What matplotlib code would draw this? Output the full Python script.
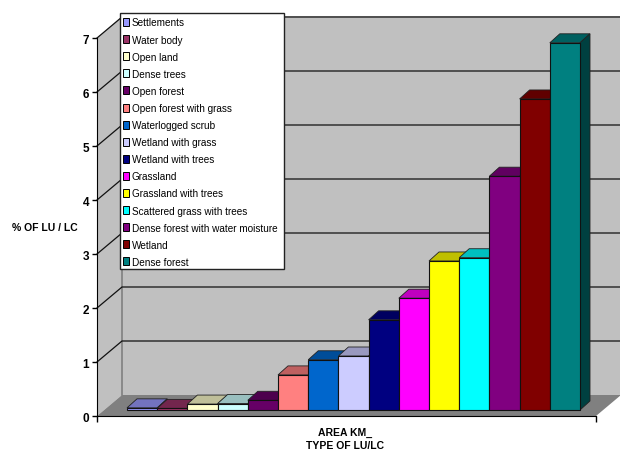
import numpy as np
import matplotlib
matplotlib.use("Agg")
import matplotlib.pyplot as plt
from matplotlib.colors import to_rgb
from matplotlib.patches import Polygon, Patch, Rectangle

plt.rcParams['font.family'] = ['Liberation Sans', 'DejaVu Sans']

categories = ["Settlements", "Water body", "Open land", "Dense trees", "Open forest",
              "Open forest with grass", "Waterlogged scrub", "Wetland with grass",
              "Wetland with trees", "Grassland", "Grassland with trees",
              "Scattered grass with trees", "Dense forest with water moisture",
              "Wetland", "Dense forest"]
values = [0.04, 0.03, 0.11, 0.12, 0.18, 0.65, 0.93, 1.0, 1.67, 2.07, 2.76, 2.82, 4.33, 5.76, 6.80]
colors = ["#9999FF", "#993366", "#FFFFCC", "#CCFFFF", "#660066", "#FF8080", "#0066CC", "#CCCCFF",
          "#000080", "#FF00FF", "#FFFF00", "#00FFFF", "#800080", "#800000", "#008080"]
yticks = [0, 1, 2, 3, 4, 5, 6, 7]

W, H = 620, 452
fig = plt.figure(figsize=(W/100, H/100), dpi=100)
# axes box = front plane of the chart, in pixels of the picture
ax = fig.add_axes([97/W, 1-417/H, (596-97)/W, (417-39)/H])
ax.patch.set_visible(False)

bar_w = 30.2            # px per category
px_y = 54.0             # px per unit
x0 = (97 - 142.1)/bar_w
x1 = (596 - 142.1)/bar_w
ax.set_xlim(x0, x1)
ax.set_ylim(0, 7)

# depth of the box and of the bars, in data units
box_dx, box_dy = 25/bar_w, 21/px_y
bar_dx, bar_dy = 10/bar_w, 9/px_y
base = 6/px_y

wall_r = x1 + box_dx
top = 7 + 22/px_y
kw = dict(clip_on=False, ec="none")
ax.add_patch(Polygon([(x0, 0), (x0+box_dx, box_dy), (x0+box_dx, top), (x0, 7)], fc="#C0C0C0", zorder=1, **kw))
ax.add_patch(Polygon([(x0+box_dx, box_dy), (wall_r, box_dy), (wall_r, top), (x0+box_dx, top)], fc="#C0C0C0", zorder=1, **kw))
ax.add_patch(Polygon([(x0, 0), (x1, 0), (wall_r, box_dy), (x0+box_dx, box_dy)], fc="#808080", zorder=1, **kw))
ax.plot([x0+box_dx]*2, [box_dy, top], color="#808080", lw=1.2, zorder=2, clip_on=False)

for v in yticks[1:]:
    ax.plot([x0, x0+box_dx, wall_r], [v, v+box_dy, v+box_dy], color="#111111", lw=0.9, zorder=2, clip_on=False)

for i, (val, col) in enumerate(zip(values, colors)):
    rgb = np.array(to_rgb(col))
    z = 3 + i*0.01
    ax.bar(i, val, 1.0, bottom=base, color=col, edgecolor="#111111", lw=0.8, zorder=z+0.005, clip_on=False)
    l, r, t = i-0.5, i+0.5, base+val
    ax.add_patch(Polygon([(l, t), (r, t), (r+bar_dx, t+bar_dy), (l+bar_dx, t+bar_dy)], fc=rgb*0.75,
                         ec="#222222", lw=0.6, zorder=z, clip_on=False))
    ax.add_patch(Polygon([(r, base), (r+bar_dx, base+bar_dy), (r+bar_dx, t+bar_dy), (r, t)], fc=rgb*0.5,
                         ec="#222222", lw=0.6, zorder=z, clip_on=False))

ax.spines[['top', 'right']].set_visible(False)
ax.spines['left'].set_zorder(5)
ax.spines['bottom'].set_zorder(5)
ax.set_yticks(yticks)
ax.set_xticks([x0, x1])
ax.set_xticklabels([])
ax.tick_params(axis='y', length=3.6, width=1, labelsize=8.5, pad=2)
ax.tick_params(axis='x', length=4.5, width=1)
for lab in ax.get_yticklabels():
    lab.set_fontweight('bold')

# legend frame drawn separately so the row inset can differ from the side inset
ax.add_patch(Rectangle((120/W, 1-270/H), 164/W, 256/H, transform=fig.transFigure, fc="white",
                       ec="#222222", lw=1, zorder=9, clip_on=False))
handles = [Patch(fc=c, ec="black", lw=0.7) for c in colors]
leg = ax.legend(handles, categories, loc='upper left', bbox_to_anchor=(122.5/W, 1-18.5/H),
                bbox_transform=fig.transFigure, fontsize=7.2, frameon=False, borderaxespad=0,
                borderpad=0, labelspacing=0.71, handlelength=0.65, handleheight=0.85, handletextpad=0.25)
leg.set_zorder(10)

fig.text(45/W, 1-228/H, "% OF LU / LC", ha='center', va='center', fontsize=7.5, fontweight='bold')
fig.text(345/W, 1-433/H, "AREA KM_", ha='center', va='center', fontsize=7.5, fontweight='bold')
fig.text(345/W, 1-446.5/H, "TYPE OF LU/LC", ha='center', va='center', fontsize=7.5, fontweight='bold')

fig.savefig("out.png", dpi=100)
